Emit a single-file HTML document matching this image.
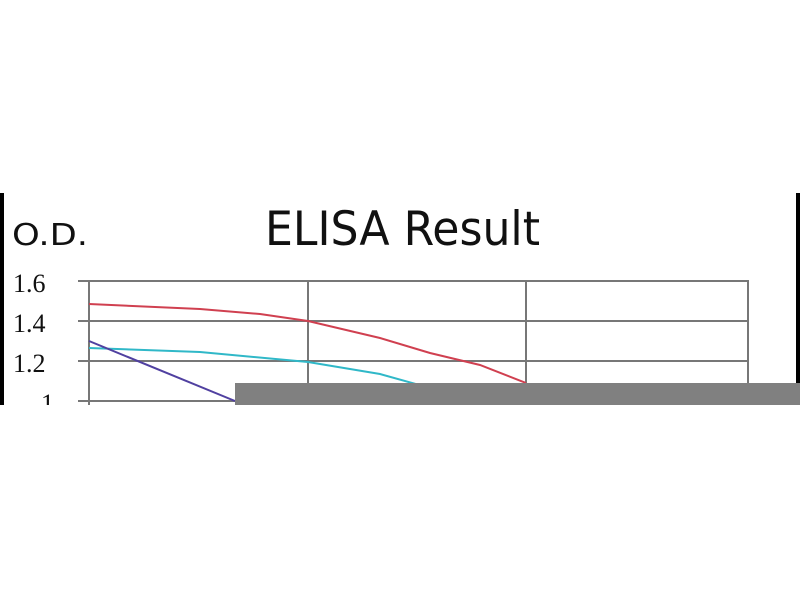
<!DOCTYPE html>
<html><head><style>
html,body{margin:0;padding:0;background:#fff;width:800px;height:600px;overflow:hidden}
</style></head><body>
<svg width="800" height="600" xmlns="http://www.w3.org/2000/svg" style="position:absolute;left:0;top:0">
<rect x="0" y="193" width="4" height="212" fill="#000"/>
<rect x="796" y="193" width="4" height="192" fill="#000"/>
<text x="12" y="245" font-family="DejaVu Sans, sans-serif" font-size="30" fill="#111" textLength="76" lengthAdjust="spacingAndGlyphs">O.D.</text>
<text x="265" y="245" font-family="DejaVu Sans, sans-serif" font-size="47" fill="#111" textLength="275" lengthAdjust="spacingAndGlyphs">ELISA Result</text>
<g font-family="Liberation Serif, serif" font-size="26" fill="#111">
<text x="13" y="292">1.6</text>
<text x="13" y="332">1.4</text>
<text x="13" y="372">1.2</text>
<text x="41" y="412">1</text>
</g>
<g stroke="#777" stroke-width="2" fill="none">
<line x1="78" y1="281" x2="749" y2="281"/>
<line x1="78" y1="321" x2="749" y2="321"/>
<line x1="78" y1="361" x2="749" y2="361"/>
<line x1="78" y1="401" x2="749" y2="401"/>
<line x1="89" y1="281" x2="89" y2="405"/>
<line x1="308" y1="281" x2="308" y2="405"/>
<line x1="526" y1="281" x2="526" y2="405"/>
<line x1="748" y1="281" x2="748" y2="405"/>
</g>
<polyline points="89,304 200,309 260,314 308,321 380,338 430,353 480,365 526,383" fill="none" stroke="#d04050" stroke-width="2"/>
<polyline points="89,348 200,352 308,362 380,374 430,388" fill="none" stroke="#30b8c8" stroke-width="2"/>
<polyline points="89,341 235,401" fill="none" stroke="#5040a0" stroke-width="2"/>
<rect x="235" y="383" width="565" height="22" fill="#808080"/>
<rect x="0" y="405" width="800" height="10" fill="#fff"/>
</svg>
</body></html>
